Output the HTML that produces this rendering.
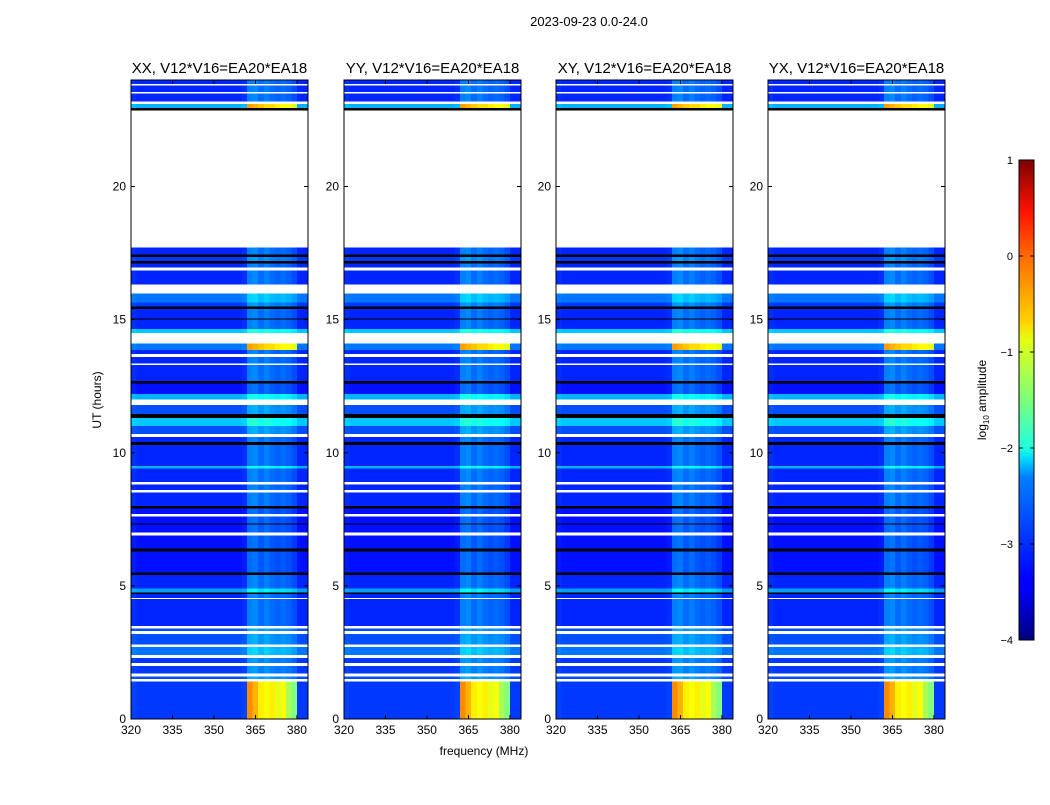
<!DOCTYPE html>
<html><head><meta charset="utf-8">
<style>
body{margin:0;background:#fff;font-family:"Liberation Sans","DejaVu Sans",sans-serif;}
svg text{font-family:"Liberation Sans","DejaVu Sans",sans-serif;}
</style></head>
<body>
<svg id="fig" width="1050" height="800" xmlns="http://www.w3.org/2000/svg">
<rect width="1050" height="800" fill="#fff"/>
<text x="589" y="26" font-size="13" text-anchor="middle">2023-09-23 0.0-24.0</text>
<text x="484" y="755" font-size="12" text-anchor="middle">frequency (MHz)</text>
<text transform="translate(101,400) rotate(-90)" font-size="12" text-anchor="middle">UT (hours)</text>
<g id="panels"></g>
<defs>
<linearGradient id="jet" x1="0" y1="1" x2="0" y2="0">
<stop offset="0" stop-color="#00007f"/><stop offset="0.11" stop-color="#0000ff"/>
<stop offset="0.125" stop-color="#0000ff"/><stop offset="0.34" stop-color="#0080ff"/>
<stop offset="0.375" stop-color="#00d4ff"/><stop offset="0.4" stop-color="#1effe0"/>
<stop offset="0.5" stop-color="#7cff7a"/><stop offset="0.625" stop-color="#e4ff13"/>
<stop offset="0.66" stop-color="#ffd400"/><stop offset="0.8" stop-color="#ff6a00"/>
<stop offset="0.89" stop-color="#ff1400"/><stop offset="1" stop-color="#7f0000"/>
</linearGradient>
</defs>
<g id="cbar"></g>
</svg>
<script>
// ---- data ----
const panelTitles = ["XX, V12*V16=EA20*EA18","YY, V12*V16=EA20*EA18","XY, V12*V16=EA20*EA18","YX, V12*V16=EA20*EA18"];
const xTicks = [320,335,350,365,380];
const yTicks = [0,5,10,15,20];
const cbTicks = [1,0,-1,-2,-3,-4];
// time bands: start hour, end hour, base log amplitude ('w'=flagged white, 'k'=black)
const bandStart = [0,1.4,1.5,1.6,1.7,2.0,2.1,2.3,2.4,2.7,2.8,3.2,3.3,3.4,3.5,4.5,4.55,4.7,4.75,4.9,5.4,5.5,6.3,6.4,6.9,7.0,7.3,7.35,7.6,7.7,7.9,8.0,8.5,8.6,8.8,8.9,9.4,9.5,10.3,10.4,10.6,10.7,11.0,11.3,11.45,11.8,12.0,12.2,12.6,12.7,13.3,13.35,13.6,13.7,13.85,14.1,14.5,14.65,15.0,15.05,15.4,15.5,15.65,15.98,16.32,16.85,16.95,17.1,17.2,17.35,17.45,17.7,22.85,22.95,23.1,23.2,23.5,23.55,23.8,23.85];
const bandEnd   = [1.4,1.5,1.6,1.7,2.0,2.1,2.3,2.4,2.7,2.8,3.2,3.3,3.4,3.5,4.5,4.55,4.7,4.75,4.9,5.4,5.5,6.3,6.4,6.9,7.0,7.3,7.35,7.6,7.7,7.9,8.0,8.5,8.6,8.8,8.9,9.4,9.5,10.3,10.4,10.6,10.7,11.0,11.3,11.45,11.8,12.0,12.2,12.6,12.7,13.3,13.35,13.6,13.7,13.85,14.1,14.5,14.65,15.0,15.05,15.4,15.5,15.65,15.98,16.32,16.85,16.95,17.1,17.2,17.35,17.45,17.7,22.85,22.95,23.1,23.2,23.5,23.55,23.8,23.85,24];
const bandLevel = [-3.1,'w',-3.0,'w',-3.1,'w',-3.1,'w',-2.8,'w',-3.0,'w',-3.0,'w',-3.2,'w',-3.2,'k',-2.6,-3.2,'k',-3.3,'k',-3.3,'w',-3.3,'k',-3.3,'w',-3.3,'k',-3.2,'w',-3.2,'w',-3.2,-2.5,-3.2,'k',-3.2,'w',-3.0,-2.4,'k',-3.0,'w',-2.5,-3.3,'k',-3.2,'w',-3.2,'w',-3.2,-2.8,'w',-2.4,-3.2,'k',-3.2,'k',-3.1,-2.8,'w',-3.2,'w',-3.2,'k',-3.1,'k',-3.2,'w','k',-2.5,'w',-3.2,'w',-3.2,'w',-3.2];
// special RFI bands: index of band -> type
const bandRfi = {0:'y',54:'o',73:'o'};
// frequency channels (2 MHz wide from 320 MHz) and profile offsets
const chanFreq = [320,322,324,326,328,330,332,334,336,338,340,342,344,346,348,350,352,354,356,358,360,362,364,366,368,370,372,374,376,378,380,382];
const chanOffset = [0.05,0,0,0,0,0,0,0,0,0,0,0,0,0,0,0,0,0,0,0,0.05,0.45,0.5,0.35,0.45,0.35,0.3,0.35,0.3,0.2,0,0];
const rfiYellow = [0,0,0,0,0,0,0,0,0,0,0,0,0,0,0,0,0,0,0,0,0,-0.3,-0.5,-0.8,-0.9,-0.8,-1.0,-0.9,-1.3,-1.5,0,0];
const rfiOrange = [0,0,0,0,0,0,0,0,0,0,0,0,0,0,0,0,0,0,0,0,0,-0.4,-0.5,-0.6,-0.7,-0.7,-0.8,-0.9,-0.9,-1.0,0,0];
const panelLeft = [131,344,556,768];
// ---- scales ----
const PW = 177, Y0 = 719, Y1 = 80;
const xScale = (f, L) => L + (f - 320) / 64 * PW;
const yScale = h => Y0 - h / 24 * (Y0 - Y1);
function jet(v){
  let t = Math.max(0, Math.min(1, (v + 4) / 5));
  const r = Math.max(0, Math.min(1, 1.5 - Math.abs(4*t - 3)));
  const g = Math.max(0, Math.min(1, 1.5 - Math.abs(4*t - 2)));
  const b = Math.max(0, Math.min(1, 1.5 - Math.abs(4*t - 1)));
  return `rgb(${Math.round(r*255)},${Math.round(g*255)},${Math.round(b*255)})`;
}
const NS = "http://www.w3.org/2000/svg";
function mk(tag, attrs, parent){const e=document.createElementNS(NS,tag);for(const k in attrs)e.setAttribute(k,attrs[k]);parent.appendChild(e);return e;}
const panels = document.getElementById('panels');
panelLeft.forEach((L, p) => {
  const g = mk('g', {}, panels);
  
  
  const hm = mk('g', {'shape-rendering':'crispEdges'}, g);
  
  
  bandLevel.forEach((lvl, i) => {
    const y = yScale(bandEnd[i]), h = yScale(bandStart[i]) - y;
    if (lvl === 'w' || lvl === 'k') {
      const r = mk('rect', {x:L, y:y, width:PW, height:h, fill: lvl==='w' ? '#fff' : '#000'}, hm);
      
      
      return;
    }
    chanFreq.forEach((f, j) => {
      let v = lvl + chanOffset[j];
      if (bandRfi[i] === 'y' && rfiYellow[j] < 0) v = rfiYellow[j];
      if (bandRfi[i] === 'o' && rfiOrange[j] < 0) v = rfiOrange[j];
      const x0 = xScale(f, L), x1 = Math.min(xScale(f+2, L), L+PW);
      const r = mk('rect', {x:x0, y:y, width:x1-x0, height:h, fill:jet(v)}, hm);
      
      
    });
  });
  const fr = mk('rect', {x:L, y:Y1, width:PW, height:Y0-Y1, fill:'none', stroke:'#000', 'stroke-width':1}, g);
  
  
  const t = mk('text', {x:L+PW/2, y:73, 'font-size':15, 'text-anchor':'middle'}, g);
  t.textContent = panelTitles[p];
  
  
  xTicks.forEach(f => {
    const x = xScale(f, L);
    mk('line', {x1:x, x2:x, y1:Y0, y2:Y0-4, stroke:'#000'}, g);
    mk('line', {x1:x, x2:x, y1:Y1, y2:Y1+4, stroke:'#000'}, g);
    const tx = mk('text', {x:x, y:Y0+15, 'font-size':12, 'text-anchor':'middle'}, g);
    tx.textContent = f;
    
    
  });
  yTicks.forEach(h => {
    const y = yScale(h);
    mk('line', {x1:L, x2:L+4, y1:y, y2:y, stroke:'#000'}, g);
    mk('line', {x1:L+PW, x2:L+PW-4, y1:y, y2:y, stroke:'#000'}, g);
    const ty = mk('text', {x:L-5, y:y+4, 'font-size':12, 'text-anchor':'end'}, g);
    ty.textContent = h;
    
    
  });
});
// colorbar
const cb = document.getElementById('cbar');
const CBX = 1019, CBW = 15, CBT = 160, CBB = 640;
mk('rect', {x:CBX, y:CBT, width:CBW, height:CBB-CBT, fill:'url(#jet)', stroke:'#000'}, cb);
cbTicks.forEach(v => {
  const y = CBB - (v + 4) / 5 * (CBB - CBT);
  mk('line', {x1:CBX, x2:CBX+4, y1:y, y2:y, stroke:'#000'}, cb);
  mk('line', {x1:CBX+CBW, x2:CBX+CBW-4, y1:y, y2:y, stroke:'#000'}, cb);
  const t = mk('text', {x:1013, y:y+4, 'font-size':11, 'text-anchor':'end'}, cb);
  t.textContent = v < 0 ? '\u2212' + Math.abs(v) : v;
  
  
});
const cl = mk('text', {transform:'translate(986,400) rotate(-90)', 'font-size':12, 'text-anchor':'middle'}, cb);
cl.innerHTML = 'log<tspan font-size="8" dy="3">10</tspan><tspan dy="-3"> amplitude</tspan>';


</script>
</body></html>
